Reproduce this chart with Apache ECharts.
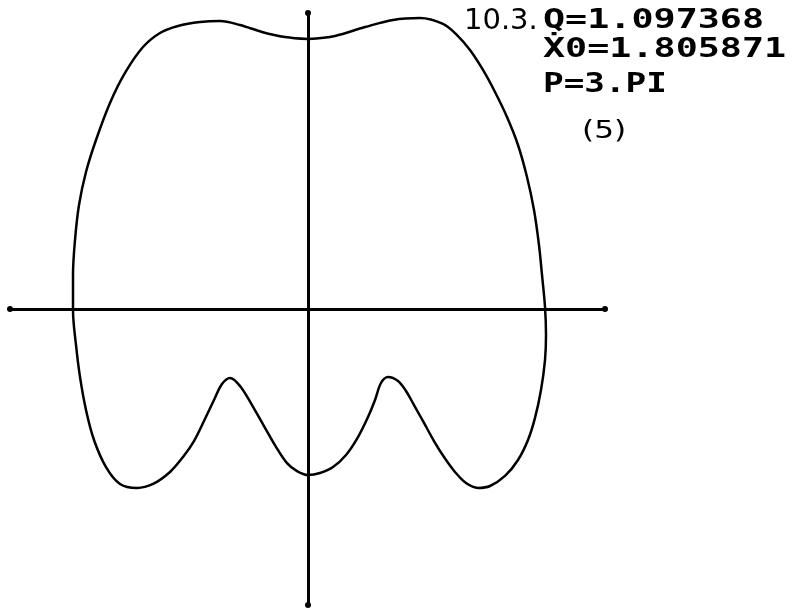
<!DOCTYPE html>
<html>
<head>
<meta charset="utf-8">
<script src="https://cdn.jsdelivr.net/npm/echarts@6/dist/echarts.min.js"></script>
<style>
  body { margin: 0; background: #fff; }
  #showChart { width: 792px; height: 611px; }
</style>
</head>
<body>
<div id="showChart"></div>
<script>
    // phase curve, going clockwise from the top crossing
    const phaseX = [
        0, 0.27, 0.57, 0.85, 1.12, 1.35, 1.49, 1.62, 1.75, 1.87, 1.99, 2.10, 2.19, 2.26, 2.31, 2.34, 2.37,
        2.38, 2.37, 2.33, 2.27, 2.20, 2.10, 1.97, 1.82, 1.70, 1.58, 1.47, 1.36, 1.26, 1.16, 1.06, 0.98, 0.90,
        0.80, 0.73, 0.67, 0.60, 0.50, 0.38, 0.25, 0.12, 0,
        -0.11, -0.21, -0.32, -0.44, -0.56, -0.68, -0.78, -0.86, -0.94, -1.04, -1.14, -1.25, -1.38, -1.55,
        -1.71, -1.88, -2.02, -2.14, -2.22, -2.28, -2.32, -2.35, -2.35, -2.33, -2.29, -2.22, -2.12, -1.98,
        -1.83, -1.65, -1.48, -1.30, -1.08, -0.88, -0.68, -0.46, -0.23, 0
    ];
    const phaseY = [
        1.824, 1.845, 1.905, 1.953, 1.966, 1.926, 1.851, 1.75, 1.615, 1.466, 1.297, 1.108, 0.892, 0.669, 0.432, 0.23, 0.014,
        -0.176, -0.345, -0.547, -0.736, -0.885, -1.02, -1.128, -1.196, -1.209, -1.176, -1.101, -1.0, -0.892, -0.77, -0.649, -0.554, -0.486,
        -0.459, -0.5, -0.615, -0.73, -0.865, -0.986, -1.068, -1.108, -1.122,
        -1.095, -1.041, -0.932, -0.791, -0.649, -0.52, -0.466, -0.507, -0.615, -0.757, -0.892, -1.0, -1.101, -1.182,
        -1.209, -1.182, -1.068, -0.885, -0.682, -0.459, -0.243, -0.007, 0.23, 0.466, 0.703, 0.926, 1.142, 1.392,
        1.595, 1.77, 1.865, 1.912, 1.939, 1.946, 1.919, 1.872, 1.838, 1.824
    ];
    const labelLines = ['Q=1.097368', '\u1E8A0=1.805871', 'P=3.PI'];
    const prefix = '10.3.';
    const caseNo = '(5)';

    const curve = phaseX.map(function (x, i) { return [x, phaseY[i]]; });

    const myChart = echarts.init(document.getElementById('showChart'));
    const axisLine = {
        onZero: true,
        symbol: ['circle', 'circle'],
        symbolSize: [6, 6],
        lineStyle: { color: '#000', width: 3 }
    };
    const monoText = function (text, y, sx) {
        return {
            type: 'text', x: 543, y: y, scaleX: sx,
            style: {
                text: text, fill: '#000',
                fontFamily: 'DejaVu Sans Mono', fontWeight: 'bold', fontSize: 27,
                textVerticalAlign: 'top'
            }
        };
    };
    const option = {
        animation: false,
        backgroundColor: '#fff',
        grid: { left: 10, right: 187, top: 13, bottom: 6 },
        xAxis: {
            type: 'value', min: -2.98, max: 2.97,
            axisLine: axisLine,
            axisTick: { show: false },
            axisLabel: { show: false },
            splitLine: { show: false }
        },
        yAxis: {
            type: 'value', min: -2, max: 2,
            axisLine: axisLine,
            axisTick: { show: false },
            axisLabel: { show: false },
            splitLine: { show: false }
        },
        series: [{
            type: 'line',
            data: curve,
            smooth: 0.35,
            showSymbol: false,
            lineStyle: { color: '#000', width: 2.5 }
        }],
        graphic: [
            {
                type: 'text', x: 464, y: 7,
                style: { text: prefix, fill: '#000', fontFamily: 'DejaVu Sans', fontSize: 29, textVerticalAlign: 'top' }
            },
            monoText(labelLines[0], 7, 1.36),
            monoText(labelLines[1], 36, 1.36),
            monoText(labelLines[2], 71, 1.27),
            {
                type: 'text', x: 582, y: 119, scaleX: 1.25,
                style: { text: caseNo, fill: '#000', fontFamily: 'DejaVu Sans', fontSize: 25, textVerticalAlign: 'top' }
            }
        ]
    };
    myChart.setOption(option);
</script>
</body>
</html>
